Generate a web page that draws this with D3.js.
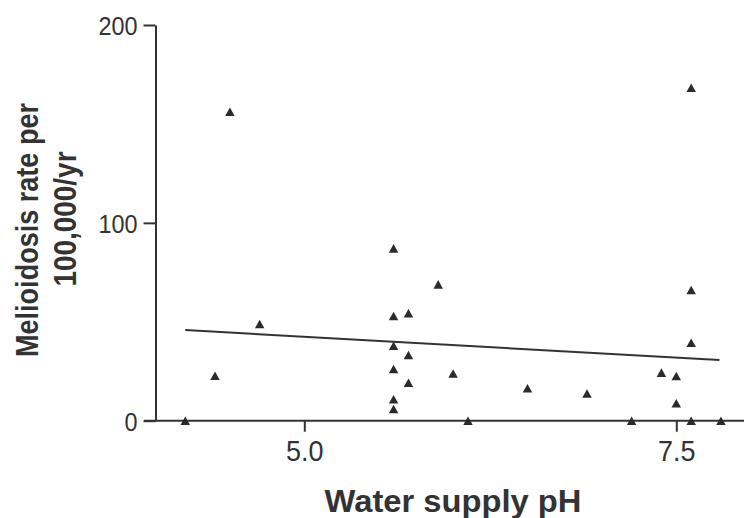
<!DOCTYPE html>
<html><head><meta charset="utf-8">
<script src="https://cdn.jsdelivr.net/npm/d3@7"></script>
<style>html,body{margin:0;padding:0;background:#fff;} svg{display:block;}</style>
</head><body><svg id="c" width="744" height="518"></svg>
<script>
// ---- data ----
const phValues   = [4.2, 4.4, 4.5, 4.7, 5.6, 5.6, 5.6, 5.6, 5.6, 5.6, 5.7, 5.7, 5.7, 5.9, 6.0, 6.1, 6.5, 6.9, 7.2, 7.4, 7.5, 7.5, 7.6, 7.6, 7.6, 7.6, 7.8];
const rateValues = [0, 22.7, 156.2, 48.9, 87.1, 52.9, 37.9, 26.1, 10.8, 5.9, 54.3, 33.2, 19.2, 68.9, 23.9, 0, 16.4, 13.8, 0, 24.3, 22.6, 8.8, 168.3, 66.1, 39.4, 0, 0];
const xTicks = [5.0, 7.5];
const yTicks = [0, 100, 200];
const fitPH = [4.2, 7.79];
const fitRate = [45.8, 30.7];
const xTitle = "Water supply pH";
const yTitleLines = ["Melioidosis rate per", "100,000/yr"];

const ink = "#333";
const font = "'Liberation Sans', Arial, Helvetica, sans-serif";
const svg = d3.select("#c");

const x = d3.scaleLinear().domain([4, 8]).range([155.5, 155.5 + 4 * 148.8]);
const y = d3.scaleLinear().domain([0, 200]).range([420.7, 25]);

// x axis line (extends left of y axis)
svg.append("line").attr("x1", 144).attr("x2", 744).attr("y1", y(0)).attr("y2", y(0))
  .attr("stroke", ink).attr("stroke-width", 2);

const xa = svg.append("g").attr("transform", `translate(0,${y(0)})`)
  .call(d3.axisBottom(x).tickValues(xTicks).tickFormat(d3.format(".1f")).tickSize(11).tickPadding(9).tickSizeOuter(0));
xa.select(".domain").remove();
xa.selectAll(".tick line").attr("stroke", ink).attr("stroke-width", 2);
xa.selectAll(".tick text").attr("fill", ink).style("font-family", font).style("font-size", "30px").attr("dy", "0.69em");

const ya = svg.append("g").attr("transform", `translate(${x(4)},0)`)
  .call(d3.axisLeft(y).tickValues(yTicks).tickFormat(d3.format("d")).tickSize(12).tickPadding(6).tickSizeOuter(0));
ya.select(".domain").attr("stroke", ink).attr("stroke-width", 2);
ya.selectAll(".tick line").attr("stroke", ink).attr("stroke-width", 2);
ya.selectAll(".tick text").attr("fill", ink).style("font-family", font).style("font-size", "26px").attr("dy", "0.38em");

// condense tick labels slightly
svg.selectAll(".tick text").each(function() {
  const w = this.getComputedTextLength();
  d3.select(this).attr("textLength", w * 0.9).attr("lengthAdjust", "spacingAndGlyphs");
});

// regression line
svg.append("line")
  .attr("x1", x(fitPH[0])).attr("y1", y(fitRate[0]))
  .attr("x2", x(fitPH[1])).attr("y2", y(fitRate[1]))
  .attr("stroke", ink).attr("stroke-width", 2);

// triangle markers centred on their bounding box
const tri = { draw(ctx, size) { const w = Math.sqrt(size); const h = w * 0.9;
  ctx.moveTo(0, -h / 2); ctx.lineTo(w / 2, h / 2); ctx.lineTo(-w / 2, h / 2); ctx.closePath(); } };
const sym = d3.symbol().type(tri).size(90);
svg.append("g").selectAll("path").data(phValues.map((p, i) => [p, rateValues[i]])).join("path")
  .attr("d", sym).attr("transform", d => `translate(${x(d[0])},${y(d[1])})`).attr("fill", "#2b2b2b");

// titles
svg.append("text").attr("x", 453).attr("y", 511.5).attr("text-anchor", "middle")
  .style("font-family", font).style("font-size", "32px").style("font-weight", "bold").attr("fill", ink)
  .attr("textLength", 257).attr("lengthAdjust", "spacingAndGlyphs").text(xTitle);

const yCenters = [230, 219];
const yBase = [37.5, 76];
const yLens = [254, 135];
yTitleLines.forEach((t, i) => {
  svg.append("text").attr("transform", `translate(${yBase[i]},${yCenters[i]}) rotate(-90)`)
    .attr("text-anchor", "middle")
    .style("font-family", font).style("font-size", "32px").style("font-weight", "bold").attr("fill", ink)
    .attr("textLength", yLens[i]).attr("lengthAdjust", "spacingAndGlyphs").text(t);
});
</script></body></html>
